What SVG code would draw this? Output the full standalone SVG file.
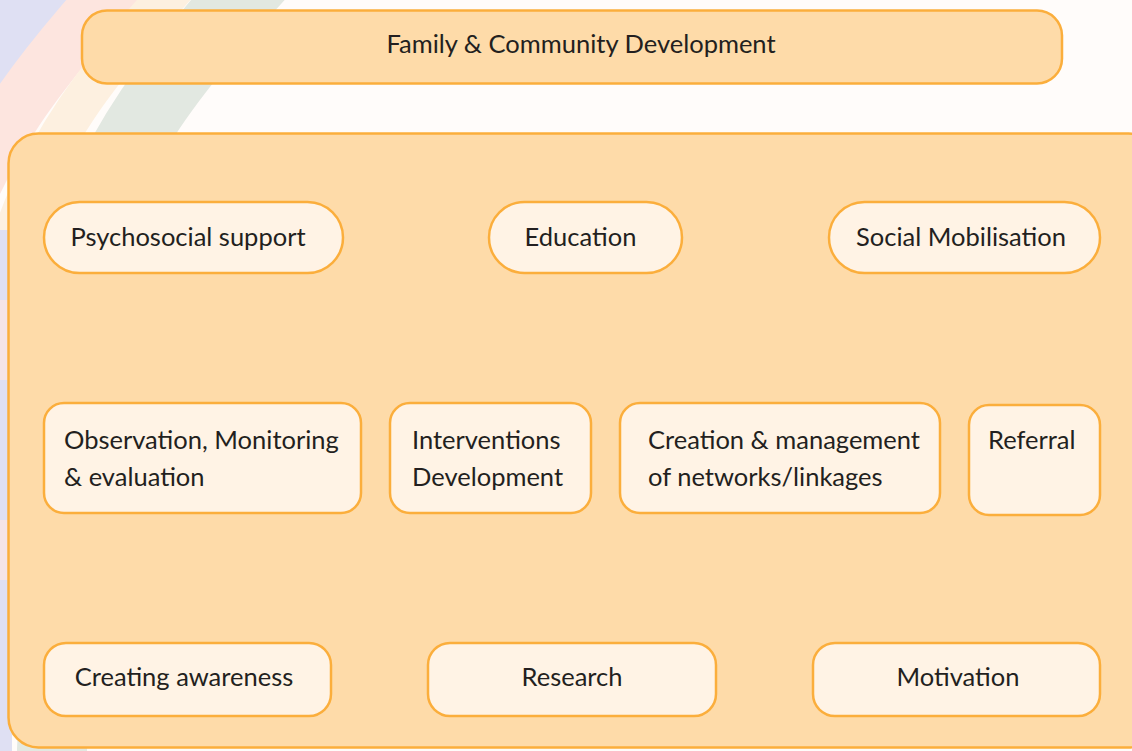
<svg xmlns="http://www.w3.org/2000/svg" width="1132" height="751" viewBox="0 0 1132 751">
<style>
.outer{fill:#fedba9;stroke:#fbae3c;stroke-width:2.5}
.node{fill:#fff3e5;stroke:#fbae3c;stroke-width:2.5}
text{font-family:Lato,"Liberation Sans",sans-serif;font-size:25.5px;fill:#231f20}
.c{text-anchor:middle}
.band{fill:none}
</style>
<defs>
<path id="arc" d="M 292 -60 C 180 62, 100 150, 70 300 L 50 800"/>
</defs>
<rect width="1132" height="751" fill="#fffcfa"/>
<g id="background">
<use href="#arc" class="band" stroke="#dfe0f3" stroke-width="160" transform="translate(-260,0)"/>
<use href="#arc" class="band" stroke="#fde5df" stroke-width="56" transform="translate(-134,0)"/>
<use href="#arc" class="band" stroke="#fdf0e0" stroke-width="40" transform="translate(-74,0)"/>
<use href="#arc" class="band" stroke="#e2e8e1" stroke-width="70"/>
<rect x="0" y="230" width="12" height="521" fill="#dfe0f3"/>
<rect x="0" y="300" width="12" height="80" fill="#fde5df" opacity="0.7"/>
<rect x="0" y="520" width="12" height="60" fill="#fde5df" opacity="0.7"/>
</g>
<g id="title">
<rect class="outer" x="82" y="10.5" width="980" height="73" rx="25"/>
<text class="c" x="581" y="53">Family &amp; Community Development</text>
</g>
<g id="container">
<rect class="outer" x="8.5" y="133.5" width="1150" height="614" rx="30"/>
</g>
<g id="psychosocial">
<rect class="node" x="44" y="202" width="299" height="71" rx="35.5"/>
<text class="c" x="188" y="246">Psychosocial support</text>
</g>
<g id="education">
<rect class="node" x="489" y="202" width="193" height="71" rx="35.5"/>
<text class="c" x="580.5" y="246">Education</text>
</g>
<g id="social">
<rect class="node" x="829" y="202" width="271" height="71" rx="35.5"/>
<text class="c" x="961" y="246">Social Mobilisation</text>
</g>
<g id="observation">
<rect class="node" x="44" y="403" width="317" height="110" rx="20"/>
<text x="64" y="449">Observation, Monitoring</text>
<text x="64" y="486">&amp; evaluation</text>
</g>
<g id="interventions">
<rect class="node" x="390" y="403" width="201" height="110" rx="20"/>
<text x="412" y="449">Interventions</text>
<text x="412" y="486">Development</text>
</g>
<g id="creation">
<rect class="node" x="620" y="403" width="320" height="110" rx="20"/>
<text x="648" y="449">Creation &amp; management</text>
<text x="648" y="486">of networks/linkages</text>
</g>
<g id="referral">
<rect class="node" x="969" y="405" width="131" height="110" rx="20"/>
<text x="988" y="449">Referral</text>
</g>
<g id="awareness">
<rect class="node" x="44" y="643" width="287" height="73" rx="22"/>
<text class="c" x="184" y="686">Creating awareness</text>
</g>
<g id="research">
<rect class="node" x="428" y="643" width="288" height="73" rx="22"/>
<text class="c" x="572" y="686">Research</text>
</g>
<g id="motivation">
<rect class="node" x="813" y="643" width="287" height="73" rx="22"/>
<text class="c" x="958" y="686">Motivation</text>
</g>
<g id="connectors"></g>
</svg>
